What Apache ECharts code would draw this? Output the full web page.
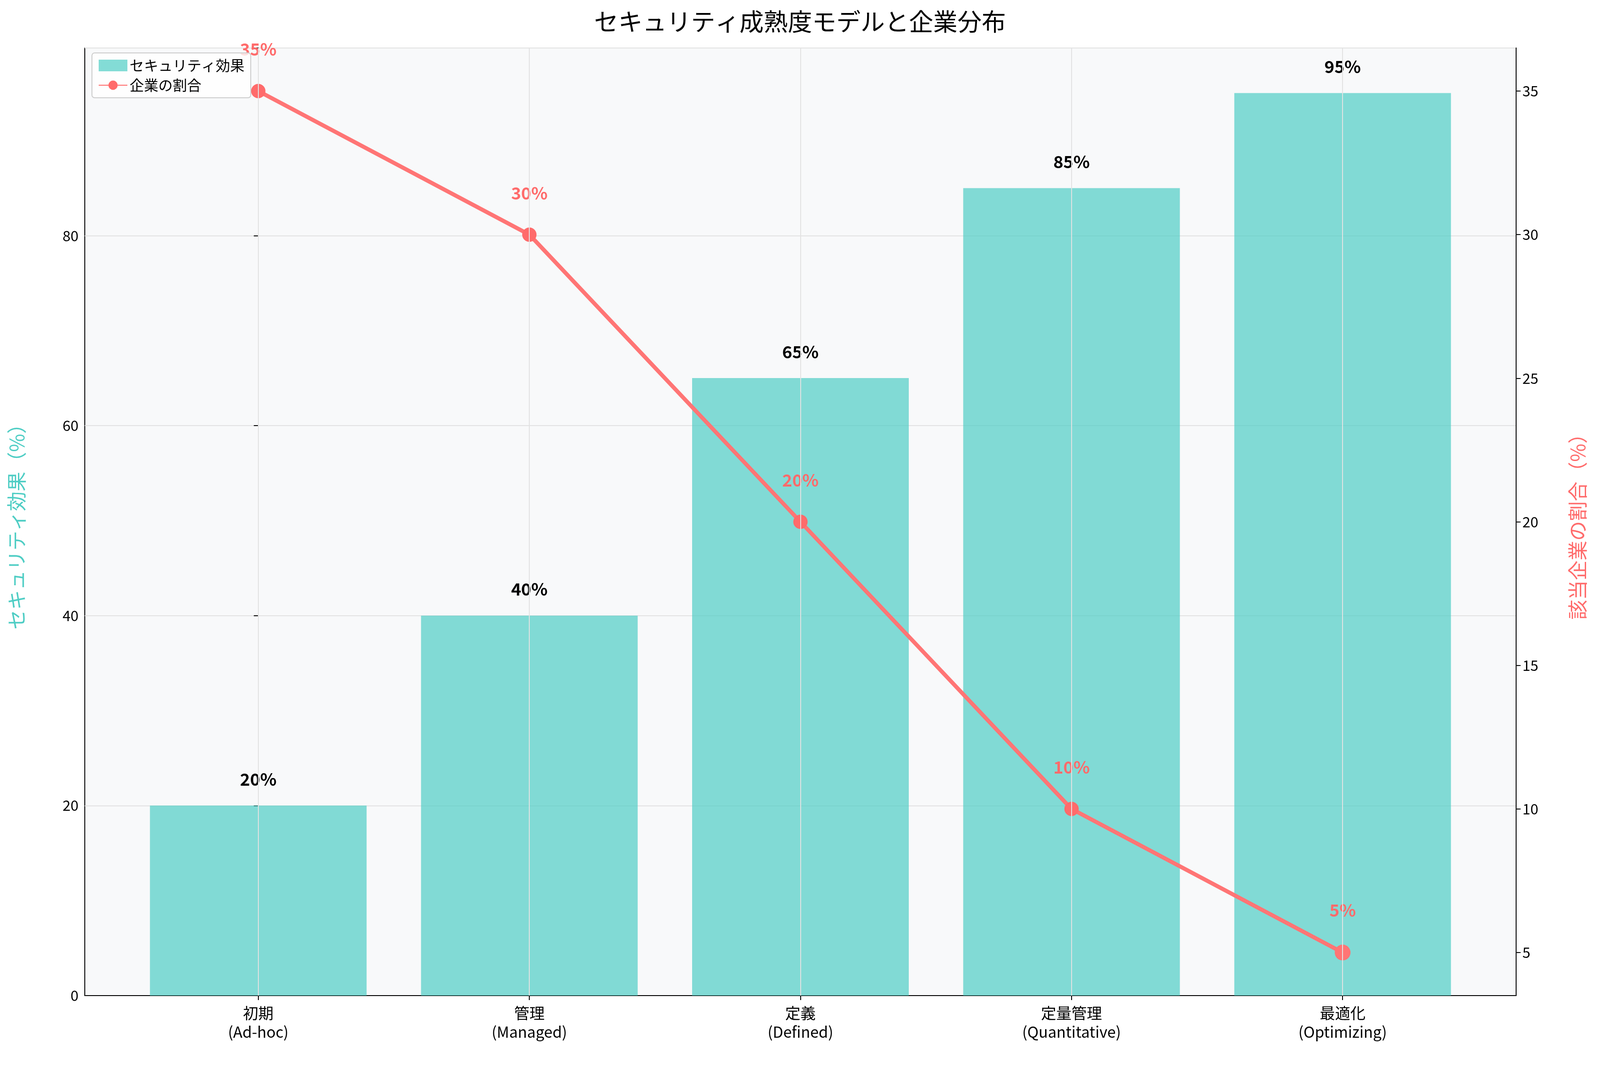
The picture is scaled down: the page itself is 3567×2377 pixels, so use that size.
<!DOCTYPE html>
<html>
<head>
<meta charset="utf-8">
<script src="https://cdn.jsdelivr.net/npm/echarts@6/dist/echarts.min.js"></script>
<style>html,body{margin:0;padding:0;background:#fff}#c{width:3567px;height:2377px}</style>
</head>
<body>
<div id="c"></div>
<script>
var categories = ['初期\n(Ad-hoc)', '管理\n(Managed)', '定義\n(Defined)', '定量管理\n(Quantitative)', '最適化\n(Optimizing)'];
var effectiveness = [20, 40, 65, 85, 95];
var companyShare = [35, 30, 20, 10, 5];
var rightTicks = [5, 10, 15, 20, 25, 30, 35];
var catPositions = [0, 1, 2, 3, 4];

var FONT = '"Noto Sans CJK JP", "Noto Sans", sans-serif';
var chart = echarts.init(document.getElementById('c'));
chart.setOption({
  backgroundColor: '#ffffff',
  textStyle: { fontFamily: FONT },
  title: {
    text: 'セキュリティ成熟度モデルと企業分布', left: 'center', top: 16,
    textStyle: { fontSize: 54, fontWeight: 'normal', color: '#000', fontFamily: FONT }
  },
  grid: { left: 189, right: 187, top: 107, bottom: 157, backgroundColor: '#F8F9FA', show: true, borderColor: '#000', borderWidth: 2 },
  legend: {
    left: 205, top: 118, orient: 'vertical', itemGap: 12, itemWidth: 64, itemHeight: 26,
    backgroundColor: 'rgba(255,255,255,0.8)', borderColor: '#ccc', borderWidth: 2, borderRadius: 6, padding: [12, 14],
    textStyle: { fontSize: 32, color: '#000', fontFamily: FONT },
    data: [{ name: 'セキュリティ効果', icon: 'rect' }, { name: '企業の割合' }]
  },
  xAxis: {
    type: 'value', min: -0.64, max: 4.64,
    axisLine: { lineStyle: { color: '#000', width: 2 } },
    axisTick: { length: 10, customValues: catPositions, lineStyle: { color: '#000', width: 2 } },
    axisLabel: { fontSize: 34, color: '#000', lineHeight: 42, margin: 18, customValues: catPositions,
      formatter: function (v) { return categories[Math.round(v)] || ''; } },
    splitLine: { show: false }
  },
  yAxis: [{
    type: 'value', min: 0, max: 99.75, interval: 20,
    name: 'セキュリティ効果（%）', nameLocation: 'middle', nameGap: 130, nameRotate: 90,
    nameTextStyle: { fontSize: 44, color: '#4ECDC4' },
    axisLine: { show: true, lineStyle: { color: '#000', width: 2 } },
    axisTick: { show: true, length: 10, lineStyle: { color: '#000', width: 2 } },
    axisLabel: { fontSize: 32, color: '#000', margin: 14,
      formatter: function (v) { return v % 20 === 0 && v <= 80 ? v : ''; } },
    splitLine: { lineStyle: { color: '#e2e2e2', width: 2 } }
  }, {
    type: 'value', min: 3.5, max: 36.5,
    name: '該当企業の割合（%）', nameLocation: 'middle', nameGap: 115, nameRotate: 90,
    nameTextStyle: { fontSize: 44, color: '#FF6B6B' },
    axisLine: { show: true, lineStyle: { color: '#000', width: 2 } },
    axisTick: { show: true, length: 10, customValues: rightTicks, lineStyle: { color: '#000', width: 2 } },
    axisLabel: { fontSize: 32, color: '#000', margin: 14, customValues: rightTicks },
    splitLine: { show: false }
  }],
  series: [{
    name: 'vgrid', type: 'line', data: [], silent: true, z: 0,
    markLine: {
      symbol: 'none', silent: true, label: { show: false },
      lineStyle: { color: '#e2e2e2', width: 2, type: 'solid' },
      data: catPositions.map(function (p) { return { xAxis: p }; })
    }
  }, {
    name: 'セキュリティ効果', type: 'bar', z: 2, barWidth: 483,
    data: effectiveness.map(function (v, i) { return [catPositions[i], v]; }),
    itemStyle: { color: 'rgba(78,205,196,0.7)' },
    label: { show: true, position: 'top', distance: 40, formatter: function (p) { return p.value[1] + '%'; },
      fontSize: 38, fontWeight: 'bold', color: '#000' }
  }, {
    name: '企業の割合', type: 'line', yAxisIndex: 1, z: 3,
    data: companyShare.map(function (v, i) { return [catPositions[i], v]; }),
    symbol: 'circle', symbolSize: 32,
    lineStyle: { color: '#FF6B6B', width: 9 }, itemStyle: { color: '#FF6B6B' },
    label: { show: true, position: 'top', distance: 58, formatter: function (p) { return p.value[1] + '%'; },
      fontSize: 38, fontWeight: 'bold', color: '#FF6B6B' }
  }]
});
</script>
</body>
</html>
